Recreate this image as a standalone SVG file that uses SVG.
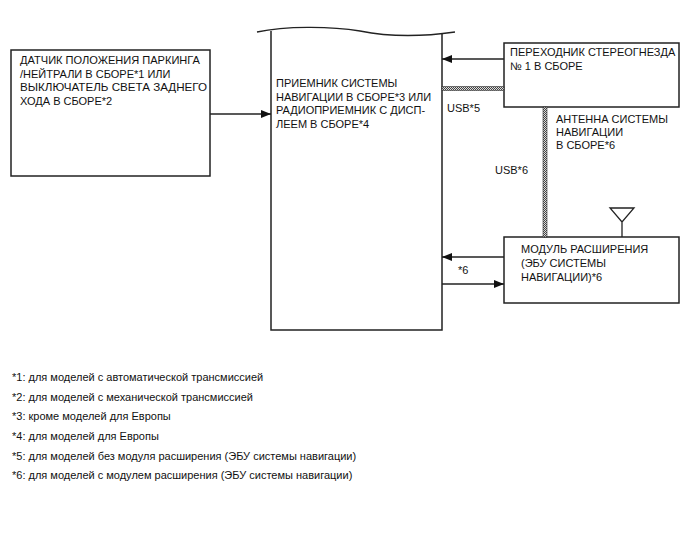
<svg xmlns="http://www.w3.org/2000/svg" width="688" height="560" viewBox="0 0 688 560">
<style>
.box{fill:#fff;stroke:#222;stroke-width:1.5}
.ln{stroke:#222;stroke-width:1.3;fill:none}
text{font-family:"Liberation Sans",Arial,sans-serif;font-size:11px;fill:#111}
.fn{font-size:11px}
</style>
<defs>
<pattern id="chk" width="2" height="2" patternUnits="userSpaceOnUse">
<rect width="2" height="2" fill="#ddd"/>
<rect width="1" height="1" fill="#444"/>
<rect x="1" y="1" width="1" height="1" fill="#444"/>
</pattern>
<marker id="ah" markerWidth="10" markerHeight="8" refX="10" refY="4" orient="auto" markerUnits="userSpaceOnUse">
<path d="M0,0 L10,4 L0,8 Z" fill="#111"/>
</marker>
</defs>
<rect width="688" height="560" fill="#fff"/>

<g id="sensor">
<rect class="box" x="11" y="50" width="199" height="126"/>
<text x="20" y="64" textLength="180" lengthAdjust="spacingAndGlyphs">ДАТЧИК ПОЛОЖЕНИЯ ПАРКИНГА</text>
<text x="20" y="77.5">/НЕЙТРАЛИ В СБОРЕ*1 ИЛИ</text>
<text x="20" y="91" textLength="187" lengthAdjust="spacingAndGlyphs">ВЫКЛЮЧАТЕЛЬ СВЕТА ЗАДНЕГО</text>
<text x="20" y="104.5">ХОДА В СБОРЕ*2</text>
</g>

<g id="receiver">
<path class="box" d="M271,31 L271,330 L442,330 L442,34" />
<path class="ln" d="M257,32 C285,26 330,26 360,31 C385,36 420,37 455,32" stroke-width="1.5"/>
<text x="276" y="87">ПРИЕМНИК СИСТЕМЫ</text>
<text x="276" y="100.5">НАВИГАЦИИ В СБОРЕ*3 ИЛИ</text>
<text x="276" y="114">РАДИОПРИЕМНИК С ДИСП-</text>
<text x="276" y="127.5">ЛЕЕМ В СБОРЕ*4</text>
</g>

<g id="stereo-jack">
<rect class="box" x="504" y="43" width="175" height="64"/>
<text x="510" y="56">ПЕРЕХОДНИК СТЕРЕОГНЕЗДА</text>
<text x="510" y="69.5">№ 1 В СБОРЕ</text>
</g>

<g id="antenna-label">
<text x="556" y="123">АНТЕННА СИСТЕМЫ</text>
<text x="556" y="136">НАВИГАЦИИ</text>
<text x="556" y="149">В СБОРЕ*6</text>
</g>

<g id="extension-module">
<rect class="box" x="504" y="237" width="175" height="66"/>
<text x="521" y="253">МОДУЛЬ РАСШИРЕНИЯ</text>
<text x="521" y="267">(ЭБУ СИСТЕМЫ</text>
<text x="521" y="281">НАВИГАЦИИ)*6</text>
<path class="ln" d="M610,208 L634,208 L622,222 Z M622,222 L622,237" stroke-width="1.2"/>
</g>

<g id="connectors">
<line class="ln" x1="210" y1="114" x2="271" y2="114" marker-end="url(#ah)"/>
<line class="ln" x1="504" y1="59" x2="442" y2="59" marker-end="url(#ah)"/>
<rect x="442" y="86.5" width="62" height="4" fill="url(#chk)" stroke="#333" stroke-width="0.6"/>
<text x="447" y="112">USB*5</text>
<rect x="543" y="107" width="4" height="130" fill="url(#chk)" stroke="#333" stroke-width="0.6"/>
<text x="495" y="174">USB*6</text>
<line class="ln" x1="504" y1="257" x2="442" y2="257" marker-end="url(#ah)"/>
<line class="ln" x1="442" y1="284" x2="504" y2="284" marker-end="url(#ah)"/>
<text x="458" y="274">*6</text>
</g>

<g id="footnotes">
<text class="fn" x="12" y="381">*1: для моделей с автоматической трансмиссией</text>
<text class="fn" x="12" y="400.5">*2: для моделей с механической трансмиссией</text>
<text class="fn" x="12" y="420">*3: кроме моделей для Европы</text>
<text class="fn" x="12" y="440">*4: для моделей для Европы</text>
<text class="fn" x="12" y="459.5">*5: для моделей без модуля расширения (ЭБУ системы навигации)</text>
<text class="fn" x="12" y="479">*6: для моделей с модулем расширения (ЭБУ системы навигации)</text>
</g>
</svg>
